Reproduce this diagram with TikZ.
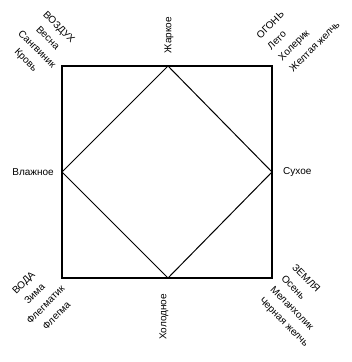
\documentclass[tikz,border=0pt]{standalone}
\usepackage{fontspec}
\setmainfont{Liberation Sans}
\begin{document}
\begin{tikzpicture}[x=1pt,y=-1pt,
  lbl/.style={font=\fontsize{10}{15.5}\selectfont,inner sep=0pt},
  frame/.style={line width=1.3pt,black},
  diam/.style={line width=1pt,black}]
\useasboundingbox (0,0) rectangle (352,362);
\coordinate (tl) at (62,66);
\coordinate (tr) at (272,66);
\coordinate (br) at (272,278);
\coordinate (bl) at (62,278);
\coordinate (t) at (168,66);
\coordinate (b) at (168,278);
\coordinate (l) at (62,172);
\coordinate (r) at (272,172);
\draw[frame] (tl) -- (tr) -- (br) -- (bl) -- cycle;
\draw[diam] (t) -- (r) -- (b) -- (l) -- cycle;
\node[lbl,rotate=90] (hot) at (169,35) {Жаркое};
\node[lbl,rotate=90] (cold) at (164,317) {Холодное};
\node[lbl,anchor=east] (wet) at (54,172) {Влажное};
\node[lbl,anchor=west] (dry) at (283,172) {Сухое};
\node[lbl,rotate=-45,align=center] (air) at (42,44) {ВОЗДУХ\\Весна\\Сангвиник\\Кровь};
\node[lbl,rotate=45,align=left] (fire) at (298,30) {ОГОНЬ\\Лето\\Холерик\\Желтая желчь};
\node[lbl,rotate=45,align=center] (water) at (40,299) {ВОДА\\Зима\\Флегматик\\Флегма};
\node[lbl,rotate=-45,align=left] (earth) at (300,306) {ЗЕМЛЯ\\Осень\\Меланхолик\\Черная желчь};
\end{tikzpicture}
\end{document}
